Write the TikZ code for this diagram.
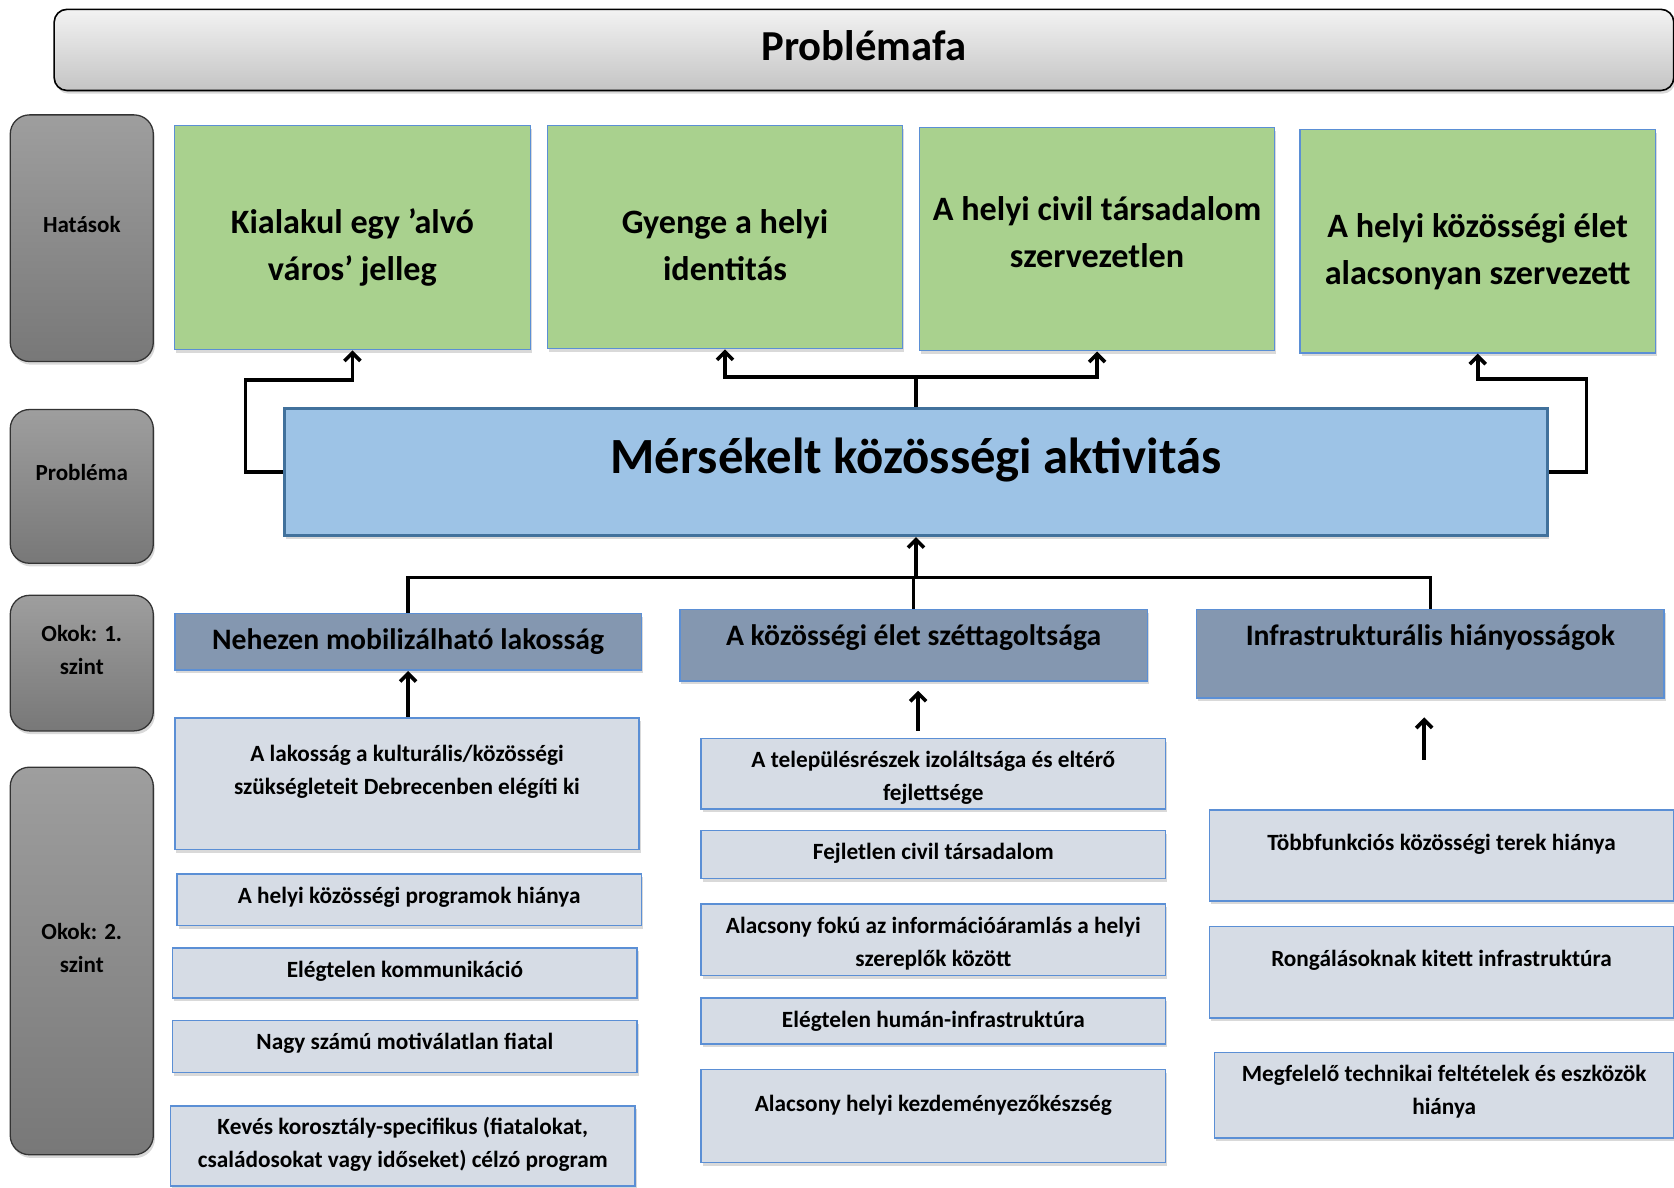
\documentclass[tikz,border=0pt]{standalone}
\usepackage{fontspec}
\setmainfont{Carlito}
\usetikzlibrary{arrows.meta}
\usetikzlibrary{positioning}
\usetikzlibrary{shadows}

\definecolor{effgreen}{HTML}{A9D18E}
\definecolor{probblue}{HTML}{9DC3E6}
\definecolor{probedge}{HTML}{41719C}
\definecolor{causeone}{HTML}{8497B0}
\definecolor{causetwo}{HTML}{D6DCE5}
\definecolor{boxedge}{HTML}{5B8FD5}

\begin{document}
\begin{tikzpicture}[x=1pt,y=-1pt,
  basebox/.style={inner sep=0pt, anchor=north west, align=flush center,
    drop shadow={shadow xshift=1.5pt, shadow yshift=-3pt, opacity=0.3}},
  titlebox/.style={basebox, draw=black, line width=1.5pt, rounded corners=12pt,
    top color=black!5, bottom color=black!23, font=\bfseries\fontsize{40}{48}\selectfont},
  sidelabel/.style={basebox, draw=black!80, line width=1.2pt, rounded corners=18pt,
    top color=black!38, bottom color=black!53, text width=134pt,
    font=\bfseries\fontsize{21.6}{31}\selectfont},
  effect/.style={basebox, draw=boxedge, line width=1.2pt, fill=effgreen, text width=333pt,
    font=\bfseries\fontsize{32}{44}\selectfont},
  problem/.style={basebox, draw=probedge, line width=3pt, fill=probblue, text width=1183pt,
    font=\bfseries\fontsize{47.5}{56}\selectfont},
  causeA/.style={basebox, draw=boxedge, line width=1.5pt, fill=causeone, text width=437pt,
    font=\bfseries\fontsize{27.8}{33}\selectfont},
  causeB/.style={basebox, draw=boxedge, line width=1.5pt, fill=causetwo, text width=435pt,
    font=\bfseries\fontsize{21.8}{31}\selectfont},
  link/.style={line width=3.4pt, line join=miter},
  upin/.style={link, {Straight Barb[length=7.5pt,width=15pt]}-}
]
  \useasboundingbox (0,0) rectangle (1568,1112);

  \node[titlebox, text width=1517pt, text height=48pt, text depth=28pt] (title) at (50,8) {Problémafa};

  % row labels on the left
  \node[sidelabel, text height=110pt, text depth=121pt] (lab_h) at (9,107) {Hatások};
  \node[sidelabel, text height=66pt, text depth=78pt] (lab_p) at (9,383) {Probléma};
  \node[sidelabel, text height=43pt, text depth=84pt] (lab_1) at (9,557) {Okok: 1.\\ szint};
  \node[sidelabel, text height=161pt, text depth=202pt] (lab_2) at (9,718) {Okok: 2.\\ szint};

  % effects
  \node[effect, text height=101.5pt, text depth=108.5pt] (h_1) at (163,117) {Kialakul egy ’alvó\\ város’ jelleg};
  \node[effect, text height=101.5pt, text depth=107.5pt] (h_2) at (512,117) {Gyenge a helyi\\ identitás};
  \node[effect, text width=332pt, text height=86.5pt, text depth=122.5pt] (h_3) at (861,119) {A helyi civil társadalom\\ szervezetlen};
  \node[effect, text height=100.5pt, text depth=108.5pt] (h_4) at (1217,121) {A helyi közösségi élet\\ alacsonyan szervezett};

  \node[problem, text height=61pt, text depth=58pt] (prob) at (265,381) {Mérsékelt közösségi aktivitás};

  % causes, first level
  \node[causeA, text height=34pt, text depth=19pt] (ok_1) at (163,574) {Nehezen mobilizálható lakosság};
  \node[causeA, text width=438pt, text height=34pt, text depth=33pt] (ok_2) at (636,570) {A közösségi élet széttagoltsága};
  \node[causeA, text width=438pt, text height=34pt, text depth=49pt] (ok_3) at (1120,570) {Infrastrukturális hiányosságok};

  % causes, second level
  \node[causeB, text height=40.5pt, text depth=82.5pt] (a_1) at (163,672) {A lakosság a kulturális/közösségi\\ szükségleteit Debrecenben elégíti ki};
  \node[causeB, text height=27.5pt, text depth=20.5pt] (a_2) at (165,818) {A helyi közösségi programok hiánya};
  \node[causeB, text height=27.5pt, text depth=19.5pt] (a_3) at (161,887) {Elégtelen kommunikáció};
  \node[causeB, text height=27.5pt, text depth=21.5pt] (a_4) at (161,955) {Nagy számú motiválatlan fiatal};
  \node[causeB, text height=26.5pt, text depth=48.5pt] (a_5) at (159,1035) {Kevés korosztály-specifikus (fiatalokat,\\ családosokat vagy időseket) célzó program};

  \node[causeB, text height=27.5pt, text depth=38.5pt] (b_1) at (656,691) {A településrészek izoláltsága és eltérő\\ fejlettsége};
  \node[causeB, text height=27.5pt, text depth=17.5pt] (b_2) at (656,777) {Fejletlen civil társadalom};
  \node[causeB, text height=27.5pt, text depth=39.5pt] (b_3) at (656,846) {Alacsony fokú az információáramlás a helyi\\ szereplők között};
  \node[causeB, text height=27.5pt, text depth=15.5pt] (b_4) at (656,934) {Elégtelen humán-infrastruktúra};
  \node[causeB, text height=39.5pt, text depth=47.5pt] (b_5) at (656,1001) {Alacsony helyi kezdeményezőkészség};

  \node[causeB, text height=37.5pt, text depth=47.5pt] (c_1) at (1132,758) {Többfunkciós közösségi terek hiánya};
  \node[causeB, text height=37.5pt, text depth=48.5pt] (c_2) at (1132,867) {Rongálásoknak kitett infrastruktúra};
  \node[causeB, text width=430pt, text height=27.5pt, text depth=52.5pt] (c_3) at (1137,985) {Megfelelő technikai feltételek és eszközök\\ hiánya};

  % problem -> effects
  \draw[upin] (h_1.south) -- ++(0,28) -| ([xshift=-35pt]prob.west) -- (prob.west);
  \draw[upin] (h_2.south) |- ([yshift=28pt]prob.north) -- (prob.north);
  \draw[upin] (h_3.south) |- ([yshift=28pt]prob.north);
  \draw[upin] (h_4.south) -- ++(0,24) -| ([xshift=35pt]prob.east) -- (prob.east);

  % causes -> problem
  \draw[upin] (prob.south) -- ++(0,38) coordinate (hub);
  \draw[link] (ok_1.north) |- (hub) -| (ok_3.north);
  \draw[link] (ok_2.north) -- (ok_2.north |- hub);

  \draw[upin] (ok_1.south) -- (ok_1.south |- a_1.north);
  \coordinate (m_top) at (860,647);
  \coordinate (m_bot) at (860,685);
  \draw[upin] (m_top) -- (m_bot);
  \coordinate (r_top) at (1334,672);
  \coordinate (r_bot) at (1334,712);
  \draw[upin] (r_top) -- (r_bot);
\end{tikzpicture}
\end{document}
